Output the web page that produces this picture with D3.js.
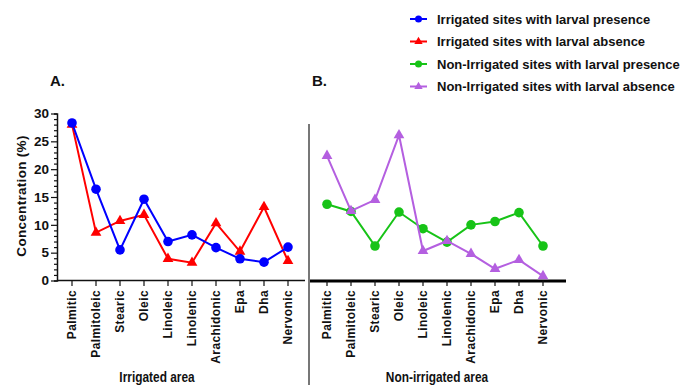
<!DOCTYPE html>
<html><head><meta charset="utf-8">
<script src="https://cdn.jsdelivr.net/npm/d3@7"></script>
<style>body{margin:0;background:#fff}svg{display:block}text{font-family:"Liberation Sans",Arial,sans-serif;font-weight:bold;fill:#111}</style>
</head><body>
<svg id="c" width="686" height="385"></svg>
<script>
const categories = ["Palmitic","Palmitoleic","Stearic","Oleic","Linoleic","Linolenic","Arachidonic","Epa","Dha","Nervonic"];
const irrigatedPresence = [28.3,16.4,5.5,14.6,7.0,8.2,5.9,3.9,3.3,6.0];
const irrigatedAbsence  = [28.0,8.6,10.7,11.8,3.9,3.2,10.3,5.2,13.2,3.5];
const nonIrrigatedPresence = [13.7,12.4,6.2,12.3,9.3,6.9,10.0,10.6,12.2,6.2];
const nonIrrigatedAbsence  = [22.4,12.5,14.5,26.1,5.3,7.1,4.8,2.1,3.7,0.8];
const yTicks = [0,5,10,15,20,25,30];
const legendLabels = ["Irrigated sites with larval presence","Irrigated sites with larval absence","Non-Irrigated sites with larval presence","Non-Irrigated sites with larval absence"];
const colors = ["#0000ff","#ff0000","#17c317","#b45fe0"];

const svg = d3.select("#c");
const y = d3.scaleLinear().domain([0,30]).range([280.5,113.5]);
const xL = d3.scalePoint().domain(categories).range([72,288]);
const xR = d3.scalePoint().domain(categories).range([327,543]);

// Left y axis
const yAxis = d3.axisLeft(y).tickValues(d3.range(0,31,1)).tickSize(3)
  .tickFormat(d => yTicks.includes(d) ? d : "");
const ga = svg.append("g").attr("transform","translate(57,0)").call(yAxis);
ga.select(".domain").attr("stroke","#111").attr("stroke-width",1.5);
ga.selectAll(".tick line").attr("stroke","#111").attr("stroke-width",1.2)
  .attr("x2", d => yTicks.includes(d) ? -6 : -3);
ga.selectAll(".tick text").attr("x",-8).style("font-size","13.5px").style("font-family","Liberation Sans, Arial").style("font-weight","bold").attr("fill","#111");

// Left x axis
svg.append("line").attr("x1",57).attr("x2",305).attr("y1",280.5).attr("y2",280.5).attr("stroke","#111").attr("stroke-width",1.5);
function xTicks(x){
  categories.forEach(c=>{
    svg.append("line").attr("x1",x(c)).attr("x2",x(c)).attr("y1",280.5).attr("y2",286).attr("stroke","#111").attr("stroke-width",1.2);
    svg.append("text").attr("transform",`translate(${x(c)+4},${290}) rotate(-90)`)
      .attr("text-anchor","end").style("font-size","12px").style("letter-spacing","0.4px").text(c);
  });
}
xTicks(xL);

// Right panel axes
svg.append("line").attr("x1",309).attr("x2",309).attr("y1",124).attr("y2",385).attr("stroke","#777").attr("stroke-width",2);
svg.append("line").attr("x1",310).attr("x2",566).attr("y1",281).attr("y2",281).attr("stroke","#000").attr("stroke-width",3);
xTicks(xR);

// Series
const tri = d3.symbol().type(d3.symbolTriangle).size(50);
function series(x, data, color, shape){
  const line = d3.line().x((d,i)=>x(categories[i])).y(d=>y(d));
  svg.append("path").datum(data).attr("d",line).attr("fill","none").attr("stroke",color).attr("stroke-width",2);
  data.forEach((d,i)=>{
    if(shape==="circle") svg.append("circle").attr("cx",x(categories[i])).attr("cy",y(d)).attr("r",4.8).attr("fill",color);
    else svg.append("path").attr("d",tri).attr("transform",`translate(${x(categories[i])},${y(d)})`).attr("fill",color);
  });
}
series(xL, irrigatedAbsence, colors[1], "tri");
series(xL, irrigatedPresence, colors[0], "circle");
series(xR, nonIrrigatedPresence, colors[2], "circle");
series(xR, nonIrrigatedAbsence, colors[3], "tri");

// Titles
svg.append("text").attr("x",50).attr("y",86).style("font-size","15px").text("A.");
svg.append("text").attr("x",312).attr("y",86).style("font-size","15px").text("B.");
svg.append("text").attr("transform","translate(26,196) rotate(-90)").attr("text-anchor","middle").style("font-size","13.5px").style("font-weight","bold").style("letter-spacing","0.3px").text("Concentration (%)");
svg.append("text").attr("transform","translate(157,382) scale(0.82,1)").attr("text-anchor","middle").style("font-size","14.5px").style("font-weight","bold").text("Irrigated area");
svg.append("text").attr("transform","translate(437,382) scale(0.82,1)").attr("text-anchor","middle").style("font-size","14.5px").style("font-weight","bold").text("Non-irrigated area");

// Legend
const legY = [19,41.5,64,86.5];
legendLabels.forEach((t,i)=>{
  const g = svg.append("g");
  g.append("line").attr("x1",410).attr("x2",427).attr("y1",legY[i]).attr("y2",legY[i]).attr("stroke",colors[i]).attr("stroke-width",2);
  if(i%2===0) g.append("circle").attr("cx",418.5).attr("cy",legY[i]).attr("r",3.5).attr("fill",colors[i]);
  else g.append("path").attr("d",d3.symbol().type(d3.symbolTriangle).size(30)).attr("transform",`translate(418.5,${legY[i]})`).attr("fill",colors[i]);
  g.append("text").attr("x",437).attr("y",legY[i]+4.5).style("font-size","13px").text(t);
});
</script>
</body></html>
